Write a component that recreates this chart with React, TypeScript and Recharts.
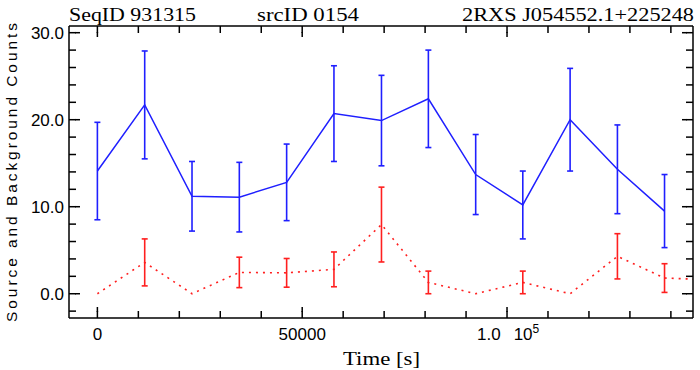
import React from "react";
import { LineChart, Line, XAxis, YAxis, ErrorBar } from "recharts";

// light curve bins (s) and counts
const timeBins = [0, 11550, 23100, 34650, 46200, 57750, 69350, 80800, 92350, 103850, 115400, 126950, 138450];
const sourceCounts = [14.1, 21.7, 11.2, 11.1, 12.8, 20.7, 19.9, 22.4, 13.7, 10.2, 20.0, 14.3, 9.5];
const sourceErrors = [5.6, 6.2, 4.0, 4.0, 4.4, 5.5, 5.2, 5.6, 4.6, 3.9, 5.9, 5.1, 4.2];
const bgTimes = [0, 11550, 23100, 34650, 46200, 57750, 69350, 80800, 92350, 103850, 115400, 126950, 138450, 150000];
const bgCounts = [0, 3.6, 0, 2.45, 2.4, 2.8, 7.95, 1.3, 0, 1.3, 0, 4.3, 1.8, 1.6];
const bgErrors = [0, 2.7, 0, 1.75, 1.65, 2.0, 4.3, 1.3, 0, 1.3, 0, 2.6, 1.65, 0];

const xTicks = [0, 10000, 20000, 30000, 40000, 50000, 60000, 70000, 80000, 90000, 100000, 110000, 120000, 130000, 140000];
const xMajor = [0, 50000, 100000];
const yTicks = [-2, 0, 2, 4, 6, 8, 10, 12, 14, 16, 18, 20, 22, 24, 26, 28, 30];
const yMajor = [0, 10, 20, 30];

const sourceData = timeBins.map((t, i) => ({ t, counts: sourceCounts[i], err: sourceErrors[i] }));
const bgData = bgTimes.map((t, i) => ({ t, counts: bgCounts[i], err: bgErrors[i] }));

const BLUE = "#1f1fff";
const RED = "#ff1f1f";
const tickFont = "'Liberation Sans', Arial, sans-serif";
const serifFont = "'Liberation Serif', 'Times New Roman', serif";
const MINOR = 7; // native inward tick length
const EXTRA = 4; // majors are MINOR + EXTRA long

// with tickSize = -MINOR the tick props sit at the inner end of the minor tick
const BottomTick = (p: any) => {
  const v = p.payload.value;
  const major = xMajor.includes(v);
  const base = p.y + MINOR;
  let label: React.ReactNode = null;
  if (major && v === 100000) {
    label = (
      <text x={p.x - 30} y={base + 22} fontFamily={tickFont} fontSize={17} fill="#000">
        <tspan>1.0</tspan>
        <tspan dx={13}>10</tspan>
        <tspan dy={-7} fontSize={12}>5</tspan>
      </text>
    );
  } else if (major) {
    label = (
      <text x={p.x} y={base + 22} textAnchor="middle" fontFamily={tickFont} fontSize={17} fill="#000">
        {v}
      </text>
    );
  }
  return (
    <g>
      {major && <path d={`M${p.x},${p.y + 1}V${p.y - EXTRA}`} stroke="#000" strokeWidth={1.5} fill="none" />}
      {label}
    </g>
  );
};

const TopTick = (p: any) => {
  const major = xMajor.includes(p.payload.value);
  return major ? <path d={`M${p.x},${p.y - 1}V${p.y + EXTRA}`} stroke="#000" strokeWidth={1.5} fill="none" /> : <g />;
};

const LeftTick = (p: any) => {
  const v = p.payload.value;
  const major = yMajor.includes(v);
  const base = p.x - MINOR;
  return (
    <g>
      {major && <path d={`M${p.x - 1},${p.y}H${p.x + EXTRA}`} stroke="#000" strokeWidth={1.5} fill="none" />}
      {major && (
        <text x={base - 5} y={p.y + 6} textAnchor="end" fontFamily={tickFont} fontSize={17} fill="#000">
          {v.toFixed(1)}
        </text>
      )}
    </g>
  );
};

const RightTick = (p: any) => {
  const major = yMajor.includes(p.payload.value);
  return major ? <path d={`M${p.x + 1},${p.y}H${p.x - EXTRA}`} stroke="#000" strokeWidth={1.5} fill="none" /> : <g />;
};

const axisLine = { stroke: "#000", strokeWidth: 1.5 };
const tickLine = { stroke: "#000", strokeWidth: 1.5 };
const xDomain = [-6930, 145400];
const yDomain = [-2.79, 30.77];

export default function App() {
  return (
    <div style={{ position: "absolute", left: 0, top: 0, width: 700, height: 370, background: "#fff" }}>
      <LineChart width={700} height={370} margin={{ top: 25, right: 6, bottom: 0, left: 0 }}>
        <XAxis
          dataKey="t"
          type="number"
          domain={xDomain}
          allowDataOverflow
          ticks={xTicks}
          interval={0}
          tickSize={-MINOR}
          tickMargin={0}
          tickLine={tickLine}
          height={52}
          axisLine={axisLine}
          tick={(p: any) => <BottomTick {...p} />}
        />
        <XAxis
          xAxisId="top"
          dataKey="t"
          orientation="top"
          type="number"
          domain={xDomain}
          allowDataOverflow
          ticks={xTicks}
          interval={0}
          tickSize={-MINOR}
          tickMargin={0}
          tickLine={tickLine}
          height={1}
          axisLine={axisLine}
          tick={(p: any) => <TopTick {...p} />}
        />
        <YAxis
          type="number"
          domain={yDomain}
          allowDataOverflow
          ticks={yTicks}
          interval={0}
          tickSize={-MINOR}
          tickMargin={0}
          tickLine={tickLine}
          width={69}
          axisLine={axisLine}
          tick={(p: any) => <LeftTick {...p} />}
        />
        <YAxis
          yAxisId="right"
          orientation="right"
          type="number"
          domain={yDomain}
          allowDataOverflow
          ticks={yTicks}
          interval={0}
          tickSize={-MINOR}
          tickMargin={0}
          tickLine={tickLine}
          width={1}
          axisLine={axisLine}
          tick={(p: any) => <RightTick {...p} />}
        />
        {/* background on the mirrored top/right axes: same domains, so same scale */}
        <Line
          data={bgData}
          xAxisId="top"
          yAxisId="right"
          dataKey="counts"
          stroke={RED}
          strokeWidth={1.6}
          strokeDasharray="2 5"
          dot={false}
          activeDot={false}
          isAnimationActive={false}
        >
          <ErrorBar dataKey="err" width={3} stroke={RED} strokeWidth={1.6} isAnimationActive={false} />
        </Line>
        <Line
          data={sourceData}
          dataKey="counts"
          stroke={BLUE}
          strokeWidth={1.5}
          dot={false}
          activeDot={false}
          isAnimationActive={false}
        >
          <ErrorBar dataKey="err" width={3} stroke={BLUE} strokeWidth={1.6} isAnimationActive={false} />
        </Line>
      </LineChart>
      <svg width={700} height={370} style={{ position: "absolute", left: 0, top: 0, pointerEvents: "none" }}>
        <g fontFamily={serifFont} fontSize={18} fill="#000">
          <text x={69} y={21} textLength={127} lengthAdjust="spacingAndGlyphs">SeqID  931315</text>
          <text x={257} y={21} textLength={102} lengthAdjust="spacingAndGlyphs">srcID  0154</text>
          <text x={462} y={21} textLength={232} lengthAdjust="spacingAndGlyphs">2RXS  J054552.1+225248</text>
          <text x={343} y={365} textLength={77} lengthAdjust="spacingAndGlyphs">Time  [s]</text>
        </g>
        <text
          x={-172.5}
          y={17}
          transform="rotate(-90)"
          textAnchor="middle"
          fontFamily={tickFont}
          fontSize={15.5}
          fill="#000"
          textLength={299}
          lengthAdjust="spacing"
        >
          Source and Background Counts
        </text>
      </svg>
    </div>
  );
}
